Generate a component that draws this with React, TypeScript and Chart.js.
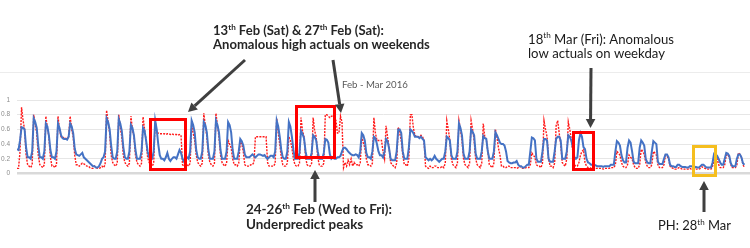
import React, { useEffect, useRef } from 'react';
import { Chart, registerables } from 'chart.js';

Chart.register(...registerables);

// 3-hourly readings: 00,03,06,09,12,15,18,21h for each day
const SLOTS_PER_DAY = 8;

const chartTitle = 'Feb - Mar 2016';
const yTickLabels = ['0', '0.1', '0.2', '0.3', '0.4', '0.5', '0.6', '0.7', '0.8', '0.9', '1'];

// Actuals (red dotted), 1 Feb - 29 Feb 2016
const actualFeb: number[][] = [
  [0.07, 0.07, 0.3, 0.9, 0.72, 0.6, 0.25, 0.12],
  [0.1, 0.08, 0.12, 0.8, 0.66, 0.55, 0.25, 0.12],
  [0.1, 0.08, 0.12, 0.78, 0.62, 0.5, 0.22, 0.1],
  [0.1, 0.08, 0.12, 0.78, 0.6, 0.5, 0.5, 0.48],
  [0.48, 0.47, 0.5, 0.78, 0.6, 0.5, 0.25, 0.12],
  [0.12, 0.1, 0.12, 0.14, 0.13, 0.12, 0.1, 0.1],
  [0.08, 0.07, 0.07, 0.1, 0.08, 0.07, 0.07, 0.08],
  [0.1, 0.08, 0.12, 0.86, 0.7, 0.55, 0.25, 0.15],
  [0.12, 0.1, 0.14, 0.8, 0.62, 0.5, 0.25, 0.15],
  [0.12, 0.1, 0.14, 0.78, 0.6, 0.5, 0.25, 0.15],
  [0.12, 0.1, 0.14, 0.77, 0.6, 0.45, 0.22, 0.15],
  [0.12, 0.1, 0.14, 0.72, 0.56, 0.55, 0.54, 0.54],
  [0.54, 0.54, 0.53, 0.54, 0.54, 0.53, 0.54, 0.53],
  [0.53, 0.53, 0.52, 0.53, 0.52, 0.12, 0.1, 0.1],
  [0.12, 0.1, 0.14, 0.65, 0.55, 0.45, 0.25, 0.15],
  [0.12, 0.1, 0.14, 0.82, 0.65, 0.5, 0.25, 0.15],
  [0.12, 0.1, 0.14, 0.82, 0.65, 0.5, 0.25, 0.15],
  [0.12, 0.1, 0.14, 0.45, 0.4, 0.35, 0.2, 0.12],
  [0.12, 0.1, 0.14, 0.43, 0.4, 0.3, 0.12, 0.1],
  [0.1, 0.1, 0.12, 0.12, 0.15, 0.5, 0.5, 0.5],
  [0.5, 0.5, 0.5, 0.5, 0.5, 0.15, 0.1, 0.1],
  [0.1, 0.1, 0.14, 0.75, 0.55, 0.4, 0.22, 0.12],
  [0.1, 0.1, 0.14, 0.5, 0.45, 0.35, 0.2, 0.12],
  [0.1, 0.1, 0.14, 0.76, 0.58, 0.5, 0.22, 0.12],
  [0.1, 0.1, 0.14, 0.76, 0.58, 0.5, 0.22, 0.12],
  [0.1, 0.1, 0.14, 0.8, 0.8, 0.78, 0.76, 0.78],
  [0.78, 0.76, 0.72, 0.55, 0.55, 0.78, 0.7, 0.08],
  [0.15, 0.1, 0.18, 0.12, 0.2, 0.1, 0.15, 0.12],
  [0.12, 0.1, 0.14, 0.5, 0.42, 0.35, 0.2, 0.12],
];

// Actuals (red dotted), 1 Mar - 31 Mar 2016
const actualMar: number[][] = [
  [0.12, 0.1, 0.14, 0.76, 0.55, 0.45, 0.45, 0.45],
  [0.45, 0.3, 0.2, 0.65, 0.5, 0.35, 0.15, 0.12],
  [0.1, 0.08, 0.14, 0.63, 0.55, 0.45, 0.25, 0.12],
  [0.12, 0.1, 0.2, 0.8, 0.8, 0.62, 0.52, 0.5],
  [0.5, 0.5, 0.52, 0.5, 0.45, 0.1, 0.08, 0.07],
  [0.1, 0.08, 0.08, 0.1, 0.1, 0.08, 0.08, 0.08],
  [0.1, 0.08, 0.14, 0.72, 0.6, 0.45, 0.2, 0.12],
  [0.1, 0.08, 0.14, 0.72, 0.6, 0.45, 0.2, 0.12],
  [0.1, 0.08, 0.14, 0.72, 0.6, 0.45, 0.2, 0.12],
  [0.1, 0.08, 0.14, 0.68, 0.5, 0.47, 0.3, 0.12],
  [0.1, 0.08, 0.14, 0.6, 0.5, 0.35, 0.25, 0.1],
  [0.1, 0.08, 0.08, 0.1, 0.1, 0.08, 0.08, 0.08],
  [0.08, 0.07, 0.08, 0.1, 0.08, 0.07, 0.07, 0.08],
  [0.08, 0.08, 0.12, 0.28, 0.25, 0.22, 0.12, 0.1],
  [0.1, 0.08, 0.14, 0.72, 0.6, 0.5, 0.2, 0.1],
  [0.1, 0.08, 0.14, 0.65, 0.72, 0.55, 0.4, 0.15],
  [0.12, 0.1, 0.2, 0.7, 0.6, 0.45, 0.3, 0.12],
  [0.1, 0.1, 0.15, 0.25, 0.3, 0.32, 0.15, 0.1],
  [0.08, 0.08, 0.07, 0.08, 0.08, 0.07, 0.07, 0.07],
  [0.07, 0.07, 0.06, 0.07, 0.07, 0.07, 0.07, 0.08],
  [0.08, 0.08, 0.12, 0.3, 0.28, 0.25, 0.15, 0.1],
  [0.08, 0.08, 0.12, 0.25, 0.22, 0.2, 0.12, 0.08],
  [0.07, 0.07, 0.12, 0.33, 0.3, 0.26, 0.15, 0.1],
  [0.08, 0.08, 0.12, 0.3, 0.28, 0.25, 0.12, 0.08],
  [0.08, 0.08, 0.12, 0.25, 0.24, 0.2, 0.1, 0.08],
  [0.07, 0.06, 0.06, 0.07, 0.08, 0.07, 0.06, 0.06],
  [0.06, 0.06, 0.06, 0.07, 0.06, 0.06, 0.05, 0.06],
  [0.06, 0.06, 0.07, 0.09, 0.08, 0.07, 0.06, 0.06],
  [0.06, 0.06, 0.1, 0.18, 0.2, 0.2, 0.12, 0.08],
  [0.08, 0.08, 0.12, 0.25, 0.26, 0.22, 0.12, 0.08],
  [0.08, 0.08, 0.12, 0.28, 0.26, 0.22, 0.12, 0.08],
];

// Predictions (blue solid), 1 Feb - 29 Feb 2016
const predictedFeb: number[][] = [
  [0.33, 0.32, 0.45, 0.63, 0.62, 0.6, 0.35, 0.22],
  [0.22, 0.2, 0.3, 0.75, 0.7, 0.62, 0.38, 0.22],
  [0.22, 0.2, 0.3, 0.68, 0.64, 0.52, 0.32, 0.22],
  [0.22, 0.2, 0.3, 0.68, 0.62, 0.52, 0.48, 0.47],
  [0.47, 0.46, 0.5, 0.68, 0.64, 0.55, 0.34, 0.26],
  [0.25, 0.24, 0.26, 0.28, 0.22, 0.2, 0.18, 0.16],
  [0.14, 0.12, 0.1, 0.1, 0.08, 0.08, 0.1, 0.14],
  [0.2, 0.22, 0.3, 0.75, 0.7, 0.6, 0.38, 0.22],
  [0.2, 0.2, 0.3, 0.74, 0.68, 0.58, 0.36, 0.22],
  [0.2, 0.2, 0.3, 0.66, 0.62, 0.52, 0.32, 0.2],
  [0.2, 0.2, 0.3, 0.62, 0.58, 0.45, 0.3, 0.22],
  [0.2, 0.2, 0.3, 0.72, 0.6, 0.4, 0.25, 0.2],
  [0.2, 0.18, 0.22, 0.28, 0.2, 0.17, 0.2, 0.22],
  [0.22, 0.2, 0.26, 0.32, 0.28, 0.2, 0.16, 0.22],
  [0.22, 0.2, 0.3, 0.72, 0.66, 0.56, 0.32, 0.22],
  [0.2, 0.2, 0.3, 0.7, 0.66, 0.56, 0.32, 0.2],
  [0.2, 0.2, 0.3, 0.72, 0.66, 0.56, 0.32, 0.2],
  [0.2, 0.2, 0.3, 0.7, 0.66, 0.56, 0.32, 0.2],
  [0.2, 0.2, 0.3, 0.47, 0.44, 0.38, 0.26, 0.22],
  [0.22, 0.22, 0.24, 0.26, 0.24, 0.22, 0.24, 0.26],
  [0.26, 0.25, 0.24, 0.25, 0.22, 0.2, 0.22, 0.24],
  [0.24, 0.22, 0.3, 0.72, 0.64, 0.5, 0.32, 0.22],
  [0.2, 0.2, 0.3, 0.7, 0.64, 0.5, 0.32, 0.2],
  [0.2, 0.2, 0.28, 0.58, 0.54, 0.48, 0.3, 0.2],
  [0.2, 0.2, 0.28, 0.52, 0.5, 0.45, 0.3, 0.2],
  [0.2, 0.2, 0.28, 0.47, 0.46, 0.42, 0.26, 0.2],
  [0.22, 0.2, 0.2, 0.22, 0.22, 0.24, 0.3, 0.35],
  [0.35, 0.33, 0.3, 0.28, 0.26, 0.25, 0.25, 0.26],
  [0.25, 0.22, 0.3, 0.55, 0.52, 0.45, 0.28, 0.22],
];

// Predictions (blue solid), 1 Mar - 31 Mar 2016
const predictedMar: number[][] = [
  [0.22, 0.2, 0.3, 0.5, 0.48, 0.4, 0.3, 0.25],
  [0.25, 0.22, 0.3, 0.47, 0.44, 0.34, 0.2, 0.18],
  [0.18, 0.18, 0.3, 0.6, 0.6, 0.55, 0.3, 0.2],
  [0.2, 0.2, 0.35, 0.6, 0.58, 0.55, 0.5, 0.5],
  [0.5, 0.48, 0.5, 0.47, 0.45, 0.22, 0.2, 0.18],
  [0.2, 0.18, 0.2, 0.24, 0.2, 0.18, 0.16, 0.18],
  [0.2, 0.2, 0.3, 0.5, 0.48, 0.45, 0.25, 0.2],
  [0.2, 0.2, 0.3, 0.68, 0.62, 0.52, 0.27, 0.2],
  [0.2, 0.2, 0.3, 0.6, 0.57, 0.52, 0.27, 0.2],
  [0.2, 0.2, 0.3, 0.51, 0.48, 0.47, 0.3, 0.2],
  [0.2, 0.2, 0.3, 0.56, 0.52, 0.47, 0.42, 0.4],
  [0.4, 0.38, 0.3, 0.17, 0.15, 0.14, 0.14, 0.15],
  [0.15, 0.17, 0.12, 0.1, 0.1, 0.08, 0.08, 0.1],
  [0.12, 0.12, 0.3, 0.49, 0.48, 0.45, 0.2, 0.16],
  [0.16, 0.16, 0.3, 0.47, 0.47, 0.45, 0.2, 0.16],
  [0.16, 0.16, 0.3, 0.47, 0.5, 0.5, 0.45, 0.2],
  [0.2, 0.2, 0.3, 0.52, 0.5, 0.45, 0.35, 0.22],
  [0.2, 0.22, 0.45, 0.55, 0.5, 0.36, 0.33, 0.2],
  [0.15, 0.14, 0.12, 0.12, 0.12, 0.11, 0.1, 0.1],
  [0.1, 0.1, 0.09, 0.1, 0.1, 0.1, 0.1, 0.12],
  [0.12, 0.12, 0.3, 0.44, 0.42, 0.38, 0.25, 0.18],
  [0.15, 0.15, 0.35, 0.45, 0.42, 0.3, 0.16, 0.14],
  [0.14, 0.14, 0.35, 0.45, 0.42, 0.38, 0.2, 0.15],
  [0.14, 0.14, 0.3, 0.44, 0.42, 0.4, 0.16, 0.13],
  [0.13, 0.13, 0.2, 0.26, 0.26, 0.22, 0.12, 0.1],
  [0.1, 0.09, 0.09, 0.12, 0.12, 0.1, 0.09, 0.09],
  [0.09, 0.08, 0.08, 0.1, 0.1, 0.09, 0.08, 0.09],
  [0.08, 0.08, 0.1, 0.12, 0.12, 0.1, 0.08, 0.08],
  [0.08, 0.08, 0.15, 0.27, 0.26, 0.24, 0.2, 0.15],
  [0.12, 0.12, 0.2, 0.28, 0.27, 0.24, 0.14, 0.1],
  [0.1, 0.1, 0.2, 0.26, 0.26, 0.22, 0.14, 0.12],
];

const toPoints = (rows: number[][]) =>
  rows.flat().map((v, i) => ({ x: i / SLOTS_PER_DAY, y: v }));

type Part = { t: string; sup?: boolean };

const FONT = 'Lato, "Open Sans", sans-serif';

function measureParts(ctx: CanvasRenderingContext2D, parts: Part[], size: number, weight: string) {
  let w = 0;
  for (const p of parts) {
    const s = p.sup ? size * 0.62 : size;
    ctx.font = `${weight} ${s}px ${FONT}`;
    w += ctx.measureText(p.t).width;
  }
  return w;
}

function drawParts(
  ctx: CanvasRenderingContext2D,
  parts: Part[],
  x: number,
  y: number,
  size: number,
  weight: string,
  color: string
) {
  ctx.fillStyle = color;
  ctx.textBaseline = 'alphabetic';
  ctx.textAlign = 'left';
  let cx = x;
  for (const p of parts) {
    const s = p.sup ? size * 0.62 : size;
    ctx.font = `${weight} ${s}px ${FONT}`;
    ctx.fillText(p.t, cx, p.sup ? y - size * 0.38 : y);
    cx += ctx.measureText(p.t).width;
  }
}

function drawBlock(
  ctx: CanvasRenderingContext2D,
  lines: Part[][],
  x: number,
  baselines: number[],
  fitLine: number,
  fitWidth: number,
  weight: string,
  color: string
) {
  const base = 12;
  const size = (base * fitWidth) / measureParts(ctx, lines[fitLine], base, weight);
  lines.forEach((ln, i) => drawParts(ctx, ln, x, baselines[i], size, weight, color));
}

function arrow(ctx: CanvasRenderingContext2D, x1: number, y1: number, x2: number, y2: number) {
  const ang = Math.atan2(y2 - y1, x2 - x1);
  const hl = 9;
  const hw = 4.8;
  const bx = x2 - hl * Math.cos(ang);
  const by = y2 - hl * Math.sin(ang);
  ctx.strokeStyle = '#3f3f3f';
  ctx.fillStyle = '#3f3f3f';
  ctx.lineWidth = 3;
  ctx.lineCap = 'butt';
  ctx.beginPath();
  ctx.moveTo(x1, y1);
  ctx.lineTo(bx, by);
  ctx.stroke();
  ctx.beginPath();
  ctx.moveTo(x2, y2);
  ctx.lineTo(bx + hw * Math.sin(ang), by - hw * Math.cos(ang));
  ctx.lineTo(bx - hw * Math.sin(ang), by + hw * Math.cos(ang));
  ctx.closePath();
  ctx.fill();
}

const annotationPlugin = {
  id: 'annotations',
  afterDraw(chart: any) {
    const ctx: CanvasRenderingContext2D = chart.ctx;
    ctx.save();

    // top frame line
    ctx.strokeStyle = '#ececec';
    ctx.lineWidth = 1;
    ctx.beginPath();
    ctx.moveTo(0, 72.5);
    ctx.lineTo(750, 72.5);
    ctx.stroke();

    // title
    ctx.fillStyle = '#595959';
    const tSize = (9 * 66) / measureParts(ctx, [{ t: chartTitle }], 9, 'normal');
    ctx.font = `normal ${tSize}px ${FONT}`;
    ctx.textAlign = 'left';
    ctx.textBaseline = 'alphabetic';
    ctx.fillText(chartTitle, 342, 88);

    // highlight boxes
    ctx.lineWidth = 3;
    ctx.strokeStyle = '#ff0000';
    ctx.strokeRect(150.5, 119.5, 35, 50);
    ctx.strokeRect(296.5, 106.5, 38, 51);
    ctx.strokeRect(573.5, 132.5, 20, 37);
    ctx.strokeStyle = '#f5be1e';
    ctx.strokeRect(693.5, 146.5, 22, 29);

    // arrows
    arrow(ctx, 245, 60, 188, 112);
    arrow(ctx, 333, 60, 341, 113);
    arrow(ctx, 591, 68, 590.5, 128);
    arrow(ctx, 315, 202, 315, 170);
    arrow(ctx, 704, 212, 704, 181);

    // texts
    drawBlock(
      ctx,
      [
        [{ t: '13' }, { t: 'th', sup: true }, { t: ' Feb (Sat) & 27' }, { t: 'th', sup: true }, { t: ' Feb (Sat):' }],
        [{ t: 'Anomalous high actuals on weekends' }],
      ],
      213,
      [35, 48.5],
      1,
      217,
      'bold',
      '#262626'
    );
    drawBlock(
      ctx,
      [
        [{ t: '18' }, { t: 'th', sup: true }, { t: ' Mar (Fri): Anomalous' }],
        [{ t: 'low actuals on weekday' }],
      ],
      528,
      [43.5, 57.5],
      0,
      146,
      'normal',
      '#1a1a1a'
    );
    drawBlock(
      ctx,
      [
        [{ t: '24-26' }, { t: 'th', sup: true }, { t: ' Feb (Wed to Fri):' }],
        [{ t: 'Underpredict peaks' }],
      ],
      246,
      [214, 228.5],
      0,
      146,
      'bold',
      '#262626'
    );
    drawBlock(ctx, [[{ t: 'PH: 28' }, { t: 'th', sup: true }, { t: ' Mar' }]], 658, [230], 0, 73, 'normal', '#1a1a1a');

    ctx.restore();
  },
};

export default function App() {
  const canvasRef = useRef<HTMLCanvasElement | null>(null);

  useEffect(() => {
    const canvas = canvasRef.current;
    if (!canvas) return;
    const totalDays = actualFeb.length + actualMar.length;
    const chart = new Chart(canvas, {
      type: 'line',
      data: {
        datasets: [
          {
            label: 'Predicted',
            data: toPoints([...predictedFeb, ...predictedMar]),
            borderColor: '#4472c4',
            borderWidth: 2,
            pointRadius: 0,
            tension: 0,
            order: 0,
          },
          {
            label: 'Actual',
            data: toPoints([...actualFeb, ...actualMar]),
            borderColor: '#ff1a1a',
            borderWidth: 1.4,
            borderDash: [2, 1.2],
            pointRadius: 0,
            tension: 0,
            order: 1,
          },
        ],
      },
      options: {
        animation: false,
        responsive: false,
        devicePixelRatio: 1,
        layout: { padding: { top: 100, bottom: 74.5, left: 0, right: 0 } },
        plugins: {
          legend: { display: false },
          tooltip: { enabled: false },
          title: { display: false },
        },
        scales: {
          x: { type: 'linear', min: 0, max: totalDays + 0.33, display: false },
          y: {
            min: 0,
            max: 1,
            afterFit: (s: any) => {
              s.width = 17;
            },
            border: { display: false },
            grid: {
              drawTicks: false,
              color: (c: any) => (c.tick && c.tick.value === 0 ? '#d9d9d9' : '#e6e6e6'),
              lineWidth: (c: any) => (c.tick && c.tick.value === 0 ? 2.5 : 1),
            },
            ticks: {
              stepSize: 0.1,
              padding: 7,
              color: '#8c8c8c',
              font: { size: 6.5, family: '"Liberation Sans", Arial, sans-serif' },
              callback: (v: any) => yTickLabels[Math.round(Number(v) * 10)],
            },
          },
        },
      },
      plugins: [annotationPlugin],
    });
    return () => chart.destroy();
  }, []);

  return (
    <div style={{ position: 'absolute', left: 0, top: 0, width: 750, height: 248, background: '#ffffff' }}>
      <canvas ref={canvasRef} width={750} height={248} style={{ display: 'block' }} />
    </div>
  );
}
